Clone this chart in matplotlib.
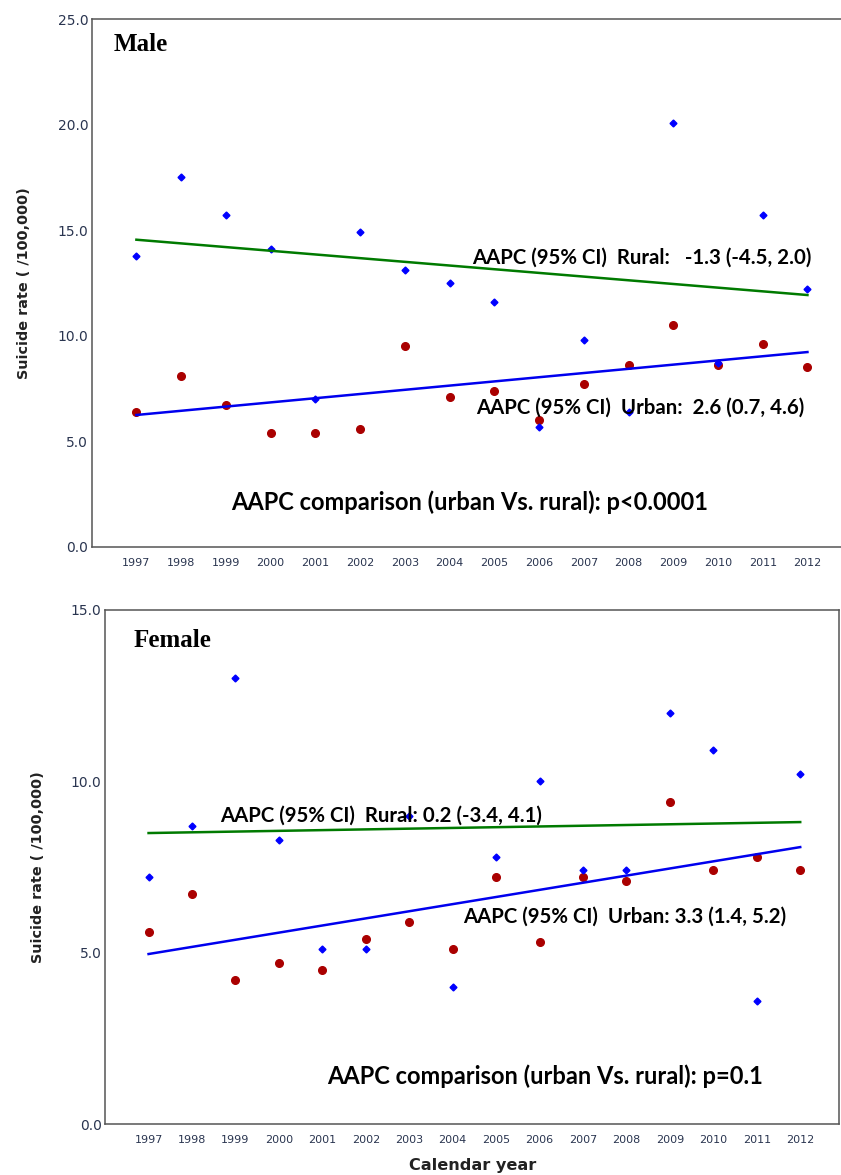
import matplotlib
matplotlib.use("Agg")
import matplotlib.pyplot as plt

# data
years = list(range(1997, 2013))

male_rural = [13.8, 17.5, 15.7, 14.1, 7.0, 14.9, 13.1, 12.5, 11.6, 5.7, 9.8, 6.4, 20.1, 8.7, 15.7, 12.2]
male_urban = [6.4, 8.1, 6.7, 5.4, 5.4, 5.6, 9.5, 7.1, 7.4, 6.0, 7.7, 8.6, 10.5, 8.6, 9.6, 8.5]
female_rural = [7.2, 8.7, 13.0, 8.3, 5.1, 5.1, 9.0, 4.0, 7.8, 10.0, 7.4, 7.4, 12.0, 10.9, 3.6, 10.2]
female_urban = [5.6, 6.7, 4.2, 4.7, 4.5, 5.4, 5.9, 5.1, 7.2, 5.3, 7.2, 7.1, 9.4, 7.4, 7.8, 7.4]

# fitted trend lines (end points)
trend_years = [1997, 2012]
male_rural_fit = [14.55, 11.93]
male_urban_fit = [6.25, 9.23]
female_rural_fit = [8.49, 8.81]
female_urban_fit = [4.96, 8.08]

male_yticks = [0, 5, 10, 15, 20, 25]
female_yticks = [0, 5, 10, 15]

fig = plt.figure(figsize=(8.41, 11.75), dpi=100, facecolor='white')
ax1 = fig.add_axes([0.109, 0.5345, 0.891, 0.4493])
ax2 = fig.add_axes([0.125, 0.0434, 0.873, 0.4375])

ann_font = dict(family=['Lato', 'DejaVu Sans'], weight='bold', fontsize=14.7, color='black')


def style_axes(ax, yticks, ymax, xmax):
    ax.set_xlim(1996.0, xmax)
    ax.set_ylim(0, ymax)
    ax.set_xticks(years)
    ax.set_xticklabels([str(y) for y in years], fontsize=8, color='#2a3550', family='DejaVu Sans')
    ax.set_yticks(yticks)
    ax.set_yticklabels(['%.1f' % v for v in yticks], fontsize=10, color='#2a3550', family='DejaVu Sans')
    ax.tick_params(axis='y', length=0, pad=2.5)
    ax.tick_params(axis='x', length=0, pad=8)
    for s in ax.spines.values():
        s.set_color('#555555')
        s.set_linewidth(1.1)
    ax.set_ylabel('Suicide rate ( /100,000)', fontsize=10.4, fontweight='bold', color='#222222', labelpad=19)


def plot_panel(ax, rural, urban, rural_fit, urban_fit):
    ax.plot(years, urban, 'o', color='#aa0000', markersize=5.5, zorder=2)
    ax.plot(years, rural, 'D', color='#0000ff', markersize=3.5, zorder=2)
    ax.plot(trend_years, rural_fit, color='#007a00', linewidth=1.8, zorder=3)
    ax.plot(trend_years, urban_fit, color='#0000ee', linewidth=1.8, zorder=3)


# Male panel (right border is cut off in the original)
plot_panel(ax1, male_rural, male_urban, male_rural_fit, male_urban_fit)
style_axes(ax1, male_yticks, 25, 2012.75)
ax1.spines['right'].set_visible(False)
ax1.text(1996.5, 23.8, 'Male', family='Liberation Serif', weight='bold', fontsize=18, va='center')
ax1.text(2004.51, 13.7, 'AAPC (95% CI)  Rural:   -1.3 (-4.5, 2.0)', va='center', **ann_font)
ax1.text(2004.6, 6.6, 'AAPC (95% CI)  Urban:  2.6 (0.7, 4.6)', va='center', **ann_font)
ax1.text(1999.12, 2.1, 'AAPC comparison (urban Vs. rural): p<0.0001', va='center',
         family=['Lato', 'DejaVu Sans'], weight='bold', fontsize=17)

# Female panel
plot_panel(ax2, female_rural, female_urban, female_rural_fit, female_urban_fit)
style_axes(ax2, female_yticks, 15, 2012.9)
ax2.text(1996.65, 14.1, 'Female', family='Liberation Serif', weight='bold', fontsize=18, va='center')
ax2.text(1998.65, 9.0, 'AAPC (95% CI)  Rural: 0.2 (-3.4, 4.1)', va='center', **ann_font)
ax2.text(2004.25, 6.05, 'AAPC (95% CI)  Urban: 3.3 (1.4, 5.2)', va='center', **ann_font)
ax2.text(2001.12, 1.4, 'AAPC comparison (urban Vs. rural): p=0.1', va='center',
         family=['Lato', 'DejaVu Sans'], weight='bold', fontsize=17)
ax2.set_xlabel('Calendar year', fontsize=11.6, fontweight='bold', color='#222222', labelpad=9)

fig.savefig('out.png', dpi=100)
